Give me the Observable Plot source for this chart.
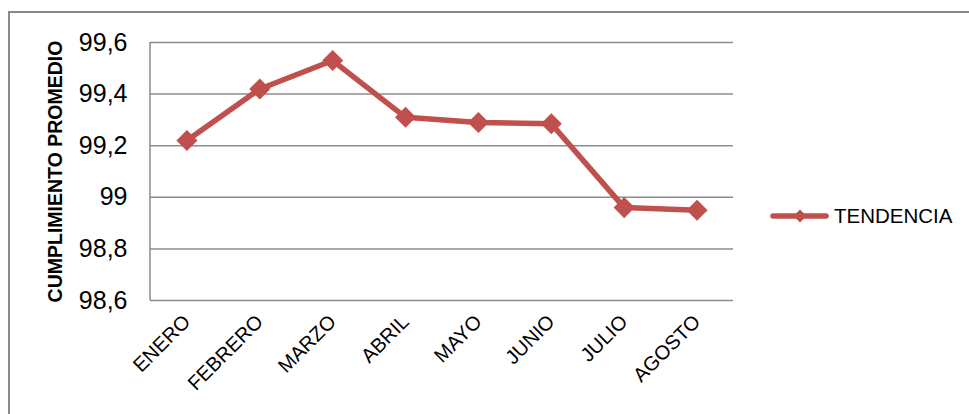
<!DOCTYPE html>
<html>
<head>
<meta charset="utf-8">
<script src="https://cdn.jsdelivr.net/npm/d3@7"></script>
<script src="https://cdn.jsdelivr.net/npm/@observablehq/plot@0.6"></script>
<style>
  html, body { margin: 0; padding: 0; background: #fff; }
  body { width: 969px; height: 414px; overflow: hidden; font-family: "Liberation Sans", Arial, sans-serif; }
  #wrap { position: relative; width: 969px; height: 414px; }
  #frame { position: absolute; left: 8px; top: 11px; width: 980px; height: 420px;
           border-top: 2px solid #8a8a8a; border-left: 2px solid #8a8a8a; box-sizing: border-box; }
  #chart { position: absolute; left: 0; top: 0; }
  #legend { position: absolute; left: 769px; top: 204px; display: flex; align-items: center;
            font-size: 20.5px; color: #000; }
  #legend svg { margin-right: 3px; }
</style>
</head>
<body>
<div id="wrap">
  <div id="frame"></div>
  <div id="chart"></div>
  <div id="legend"></div>
</div>
<script>
// Monthly average compliance (%)
const months = ["ENERO", "FEBRERO", "MARZO", "ABRIL", "MAYO", "JUNIO", "JULIO", "AGOSTO"];
const tendencia = [99.22, 99.42, 99.53, 99.31, 99.29, 99.285, 98.96, 98.95];
const yTicks = [98.6, 98.8, 99.0, 99.2, 99.4, 99.6];
const seriesName = "TENDENCIA";
const yLabel = "CUMPLIMIENTO PROMEDIO";

const red = "#C0504D";
const gridGray = "#8c8c8c";

const data = months.map((m, i) => ({ month: m, value: tendencia[i] }));
const fmt = v => d3.format("~r")(+v.toFixed(1)).replace(".", ",");

const chart = Plot.plot({
  width: 969,
  height: 414,
  marginLeft: 150,
  marginRight: 236,
  marginTop: 42,
  marginBottom: 114,
  style: { fontFamily: "'Liberation Sans', Arial, sans-serif", background: "transparent", overflow: "visible" },
  x: { type: "point", domain: months, padding: 0.5, round: false },
  y: { domain: [98.6, 99.6], ticks: yTicks },
  marks: [
    Plot.gridY(yTicks, { stroke: gridGray, strokeOpacity: 1, strokeWidth: 1.5 }),
    Plot.axisY(yTicks, {
      tickSize: 0, tickPadding: 23, fontSize: 25, tickFormat: fmt,
      label: yLabel, labelAnchor: "center", labelArrow: "none", labelOffset: 102
    }),
    Plot.axisX({
      tickSize: 0, tickRotate: -45, fontSize: 20, tickPadding: 18, label: null
    }),
    Plot.line(data, { x: "month", y: "value", stroke: red, strokeWidth: 5.5, strokeLinejoin: "miter" }),
    Plot.dot(data, { x: "month", y: "value", symbol: "diamond2", r: 9.5, fill: red, stroke: "none" })
  ]
});

// Left edge of the plot area
d3.select(chart).append("line")
  .attr("x1", 150).attr("x2", 150).attr("y1", 42).attr("y2", 300)
  .attr("stroke", gridGray).attr("stroke-width", 1.5);

// Bold rotated axis title
d3.select(chart).selectAll("g[aria-label='y-axis label'] text")
  .attr("font-weight", "bold").attr("font-size", 19.5).attr("fill", "#000");
d3.select(chart).selectAll("g[aria-label='y-axis tick label'] text, g[aria-label='x-axis tick label'] text")
  .attr("fill", "#000");

document.getElementById("chart").appendChild(chart);

// Legend
const legend = d3.select("#legend");
const sw = legend.append("svg").attr("width", 62).attr("height", 24);
sw.append("line").attr("x1", 4).attr("x2", 57).attr("y1", 12).attr("y2", 12)
  .attr("stroke", red).attr("stroke-width", 5.5).attr("stroke-linecap", "round");
sw.append("path").attr("d", "M31,5.5 L37.5,12 L31,18.5 L24.5,12 Z").attr("fill", red);
legend.append("span").text(seriesName);
</script>
</body>
</html>
